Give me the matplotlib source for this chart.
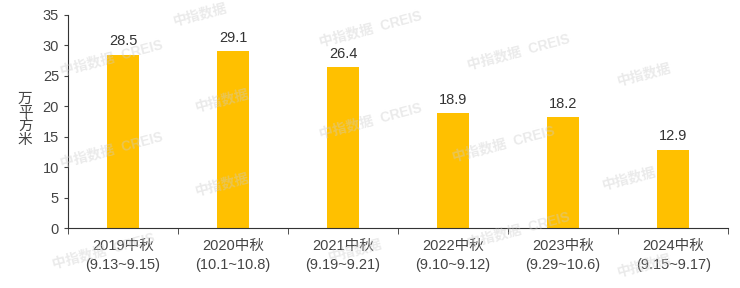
import matplotlib.pyplot as plt
import numpy as np

plt.rcParams['font.family'] = ['Liberation Sans', 'Noto Sans CJK SC', 'DejaVu Sans']

# data
years = ['2019中秋', '2020中秋', '2021中秋', '2022中秋', '2023中秋', '2024中秋']
periods = ['(9.13~9.15)', '(10.1~10.8)', '(9.19~9.21)', '(9.10~9.12)', '(9.29~10.6)', '(9.15~9.17)']
values = [28.5, 29.1, 26.4, 18.9, 18.2, 12.9]

fig = plt.figure(figsize=(7.4, 2.88), dpi=100)
ax = fig.add_axes([0.092, 0.208, 0.892, 0.74])

x = np.arange(len(years))
bars = ax.bar(x, values, width=0.29, color='#FFC000', zorder=2)
for xi, v in zip(x, values):
    ax.text(xi, v + 1.0, f'{v}', ha='center', va='bottom', fontsize=10.5, color='#333333')

ax.set_xlim(-0.5, len(years) - 0.5)
ax.set_ylim(0, 35)
ax.set_yticks(range(0, 36, 5))
ax.tick_params(axis='y', labelsize=10.5, colors='#444444', length=3)
ax.set_xticks(x)
ax.set_xticklabels([f'{a}\n{b}' for a, b in zip(years, periods)], fontsize=10.5, color='#444444',
                   linespacing=1.45)
ax.tick_params(axis='x', length=0, pad=8)
ax.set_xticks(np.arange(len(years) + 1) - 0.5, minor=True)
ax.tick_params(axis='x', which='minor', length=4, color='#333333')

for s in ['top', 'right']:
    ax.spines[s].set_visible(False)
ax.spines['left'].set_color('#333333')
ax.spines['bottom'].set_color('#333333')

fig.text(0.034, 0.585, '\n'.join('万平方米'), ha='center', va='center',
         fontsize=10.5, color='#444444', linespacing=0.95)

# watermarks
marks = [(0.27, 0.95, '中指数据'), (0.15, 0.80, '中指数据  CREIS'), (0.30, 0.65, '中指数据'),
         (0.15, 0.48, '中指数据  CREIS'), (0.30, 0.36, '中指数据'), (0.14, 0.13, '中指数据  CREIS'),
         (0.50, 0.90, '中指数据  CREIS'), (0.50, 0.58, '中指数据  CREIS'), (0.48, 0.13, '中指数据'),
         (0.70, 0.82, '中指数据  CREIS'), (0.68, 0.50, '中指数据  CREIS'), (0.87, 0.74, '中指数据'),
         (0.85, 0.38, '中指数据'), (0.87, 0.08, '中指数据'), (0.70, 0.20, '中指数据  CREIS')]
for mx, my, t in marks:
    fig.text(mx, my, t, ha='center', va='center', fontsize=10, color='#cccccc',
             alpha=0.4, rotation=15, weight='bold', zorder=5)

fig.savefig('out.png', dpi=100)
